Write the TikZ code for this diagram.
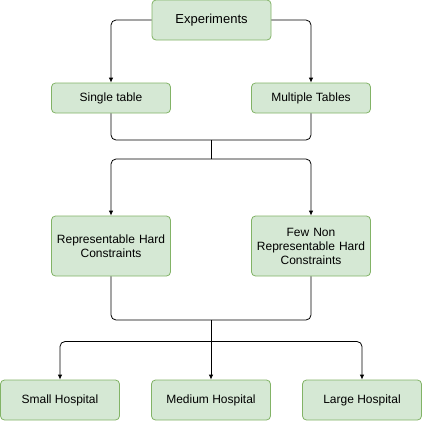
\documentclass[tikz,border=0pt]{standalone}
\usepackage{fontspec}
\setmainfont{Liberation Sans}
\usetikzlibrary{arrows.meta}
\definecolor{boxfill}{HTML}{D5E8D4}
\definecolor{boxline}{HTML}{82B366}
\tikzset{
    box/.style={draw=boxline, fill=boxfill, rounded corners=4pt, line width=0.8pt,
        minimum width=119pt, align=center, font=\fontsize{12}{14}\selectfont,
        inner sep=2pt},
    link/.style={line width=0.8pt, rounded corners=5pt},
    arr/.style={link, -{Latex[length=5pt,width=4.5pt]}}
}
\begin{document}
\begin{tikzpicture}[x=1pt,y=-1pt]
\useasboundingbox (0,0) rectangle (423,421);

\node[box, minimum height=40pt, font=\fontsize{13}{15}\selectfont] (E)  at (211.5,20) {Experiments};
\node[box, minimum height=30pt] (T1) at (111,98) {Single table};
\node[box, minimum height=30pt] (T2) at (311,98) {Multiple Tables};
\node[box, minimum height=60pt, text width=114pt] (C1) at (111,246) {Representable Hard\\Constraints};
\node[box, minimum height=60pt, text width=114pt] (C2) at (311,246) {Few Non\\Representable Hard\\Constraints};
\node[box, minimum height=40pt] (H1) at (60,400) {Small Hospital};
\node[box, minimum height=40pt] (H2) at (211,400) {Medium Hospital};
\node[box, minimum height=40pt] (H3) at (362,400) {Large Hospital};

%junctions
\coordinate (J1) at (211,140);
\coordinate (J2) at (211,159);
\coordinate (J3) at (211,320);
\coordinate (J4) at (211,341.5);

\draw[arr] (E.west) -| (T1.north);
\draw[arr] (E.east) -| (T2.north);

\draw[link] (T1.south) |- (J1) -| (T2.south);
\draw[link] (J1) -- (J2);
\draw[arr] (J2) -| (C1.north);
\draw[arr] (J2) -| (C2.north);

\draw[link] (C1.south) |- (J3) -| (C2.south);
\draw[arr] (J3) -- (H2.north);
\draw[arr] (J4) -| (H1.north);
\draw[arr] (J4) -| (H3.north);
\end{tikzpicture}
\end{document}
